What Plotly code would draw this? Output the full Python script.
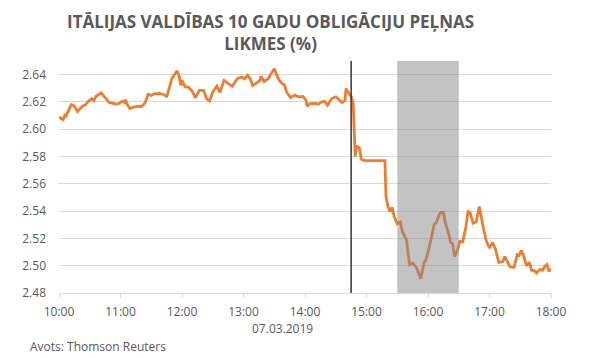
import plotly.graph_objects as go

DAY = "2019-03-07 "
times = ["10:00","10:04","10:06","10:07","10:12","10:15","10:18","10:23","10:26","10:28",
         "10:32","10:34","10:36","10:41","10:46","10:49","10:53","10:56","10:59","11:02",
         "11:04","11:05","11:07","11:09","11:12","11:17","11:20","11:24","11:27","11:30",
         "11:33","11:38","11:42","11:45","11:46","11:50","11:55","11:57","11:59","12:00",
         "12:03","12:06","12:10","12:13","12:17","12:21","12:24","12:27","12:30","12:34",
         "12:37","12:41","12:45","12:49","12:54","12:58","13:01","13:04","13:07","13:09",
         "13:13","13:16","13:17","13:20","13:24","13:27","13:30","13:34","13:37","13:40",
         "13:42","13:46","13:50","13:54","13:58","14:01","14:02","14:05","14:10","14:13",
         "14:16","14:19","14:22","14:26","14:30","14:32","14:36","14:39","14:40","14:43",
         "14:45","14:47","14:48","14:49","14:50","14:53","14:55","14:58","15:18","15:19",
         "15:21","15:23","15:25","15:27","15:30","15:33","15:35","15:39","15:42","15:45",
         "15:49","15:53","15:56","15:58","16:01","16:03","16:06","16:08","16:10","16:12",
         "16:15","16:17","16:20","16:22","16:24","16:26","16:29","16:31","16:34","16:37",
         "16:39","16:41","16:44","16:47","16:50","16:52","16:54","16:57","17:00","17:03",
         "17:06","17:09","17:13","17:15","17:18","17:20","17:24","17:27","17:29","17:31",
         "17:33","17:36","17:39","17:41","17:44","17:46","17:49","17:52","17:54","17:56",
         "17:58","18:00"]
yields = [2.609,2.607,2.611,2.610,2.618,2.617,2.613,2.617,2.618,2.620,
          2.6225,2.621,2.624,2.6266,2.6225,2.6196,2.619,2.6183,2.619,2.6207,
          2.6195,2.6217,2.6176,2.6152,2.616,2.6169,2.6165,2.6193,2.6256,2.6248,
          2.626,2.6263,2.6255,2.624,2.626,2.637,2.6427,2.6395,2.632,2.636,
          2.631,2.631,2.628,2.623,2.6285,2.6285,2.6225,2.6207,2.6273,2.6315,
          2.627,2.6358,2.6334,2.6315,2.637,2.6383,2.637,2.6395,2.6363,2.632,
          2.634,2.6358,2.6388,2.635,2.637,2.6412,2.6444,2.637,2.6339,2.6325,
          2.6273,2.6232,2.625,2.6237,2.624,2.6212,2.6168,2.6187,2.619,2.6183,
          2.620,2.6205,2.6176,2.6225,2.6238,2.6225,2.6196,2.621,2.6298,2.6261,
          2.624,2.6193,2.6017,2.5799,2.5877,2.5865,2.578,2.577,2.577,2.5507,
          2.5434,2.5397,2.5427,2.536,2.5307,2.532,2.5251,2.519,2.5008,2.502,
          2.4984,2.4904,2.502,2.5044,2.5129,2.5203,2.530,2.5317,2.536,2.539,
          2.539,2.5312,2.524,2.517,2.516,2.5067,2.5117,2.5178,2.5175,2.5288,
          2.5397,2.539,2.5312,2.532,2.5434,2.5349,2.5276,2.5178,2.513,2.517,
          2.5117,2.5025,2.503,2.5067,2.502,2.4991,2.4988,2.5081,2.5075,2.5112,
          2.508,2.500,2.5025,2.4967,2.4962,2.4947,2.4972,2.4967,2.4996,2.5008,
          2.4959,2.4977]

tick_times = ["10:00","11:00","12:00","13:00","14:00","15:00","16:00","17:00","18:00"]
y_ticks = [2.48,2.50,2.52,2.54,2.56,2.58,2.60,2.62,2.64]
event_time = "14:45"
band_start, band_end = "15:30", "16:30"
title_text = "ITĀLIJAS VALDĪBAS 10 GADU OBLIGĀCIJU PEĻŅAS<br>LIKMES (%)"
date_label = "07.03.2019"
source_text = "Avots: Thomson Reuters"

x = [DAY + t for t in times]

fig = go.Figure()
fig.add_trace(go.Scatter(x=x, y=yields, mode="lines",
                         line=dict(color="#ED7D31", width=2.8), hoverinfo="skip"))

fig.add_shape(type="rect", xref="x", yref="paper", x0=DAY + band_start, x1=DAY + band_end,
              y0=0, y1=1, fillcolor="rgba(135,135,135,0.5)", line=dict(width=0), layer="above")
fig.add_shape(type="line", xref="x", yref="paper", x0=DAY + event_time, x1=DAY + event_time,
              y0=0, y1=1, line=dict(color="#404040", width=1.6), layer="above")

grey = "#595959"
L, R, T, B = 59, 41, 61, 65
PW = 592 - L - R
fig.update_layout(
    width=592, height=358,
    margin=dict(l=L, r=R, t=T, b=B),
    paper_bgcolor="white", plot_bgcolor="white",
    showlegend=False,
    font=dict(family="Open Sans", size=12, color=grey),
    xaxis=dict(type="date", range=[DAY + tick_times[0], DAY + tick_times[-1]],
               tickvals=[DAY + t for t in tick_times], ticktext=tick_times,
               showgrid=False, showline=True, linecolor="#d9d9d9", linewidth=1,
               ticks="outside", ticklen=4, tickcolor="#d9d9d9", tickwidth=1,
               ticklabelstandoff=4,
               tickfont=dict(size=12, color=grey), zeroline=False),
    yaxis=dict(range=[2.48, 2.65], tickvals=y_ticks,
               ticktext=[f"{v:.2f}" for v in y_ticks],
               showgrid=True, gridcolor="#d9d9d9", gridwidth=1,
               zeroline=False, showline=False, ticks="", ticklabelstandoff=12,
               tickfont=dict(size=12, color=grey)),
    annotations=[
        dict(text="<b>" + title_text + "</b>", xref="paper", yref="paper",
             x=(270 - L) / PW, y=1.0, yshift=T - 8, xanchor="center", yanchor="top",
             showarrow=False, font=dict(family="Open Sans", size=17, color=grey),
             align="center"),
        dict(text=date_label, xref="paper", yref="paper", x=(282 - L) / PW, y=0,
             yshift=-25, xanchor="center", yanchor="top", showarrow=False,
             font=dict(size=12, color=grey)),
        dict(text=source_text, xref="paper", yref="paper", x=(28 - L) / PW, y=0,
             yshift=-43, xanchor="left", yanchor="top", showarrow=False,
             font=dict(size=12, color=grey)),
    ],
)

fig.write_html("out.html")
